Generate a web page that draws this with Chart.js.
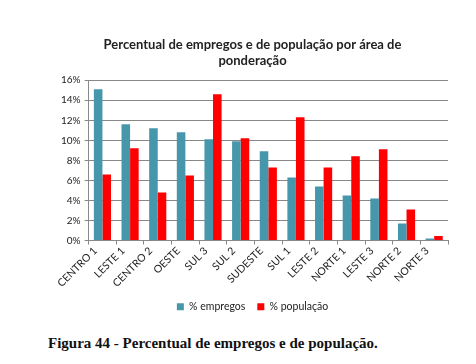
<!DOCTYPE html>
<html lang="pt">
<head>
    <meta charset="UTF-8">
    <title>Percentual de empregos e de população</title>
    <script src="https://cdn.jsdelivr.net/npm/chart.js@4.4.0/dist/chart.umd.min.js"></script>
    <style>
        * { margin: 0; padding: 0; box-sizing: border-box; }
        body { width: 476px; height: 364px; background: #fff; overflow: hidden; }
        #wrap { position: relative; width: 476px; height: 327px; }
        .caption {
            position: absolute; left: 48px; top: 335px;
            font-family: 'Liberation Serif', serif; font-weight: bold;
            font-size: 15px; color: #111;
        }
    </style>
</head>
<body>
    <div id="wrap"><canvas id="chart"></canvas></div>
    <p class="caption">Figura 44 - Percentual de empregos e de população.</p>

    <script>
        const areas = ['CENTRO 1', 'LESTE 1', 'CENTRO 2', 'OESTE', 'SUL 3', 'SUL 2', 'SUDESTE',
                       'SUL 1', 'LESTE 2', 'NORTE 1', 'LESTE 3', 'NORTE 2', 'NORTE 3']
        const empregos = [15.1, 11.6, 11.2, 10.8, 10.1, 9.9, 8.9, 6.3, 5.4, 4.5, 4.2, 1.7, 0.2]
        const populacao = [6.6, 9.2, 4.8, 6.5, 14.6, 10.2, 7.3, 12.3, 7.3, 8.4, 9.1, 3.1, 0.45]
        const yTicks = [0, 2, 4, 6, 8, 10, 12, 14, 16]

        const font = 'Lato'

        new Chart(document.getElementById('chart'), {
            type: 'bar',
            data: {
                labels: areas,
                datasets: [
                    { label: '% empregos', data: empregos, backgroundColor: '#4797AC' },
                    { label: '% população', data: populacao, backgroundColor: '#FF0000' }
                ]
            },
            options: {
                responsive: true,
                maintainAspectRatio: false,
                animation: false,
                datasets: { bar: { categoryPercentage: 0.62, barPercentage: 1.0 } },
                layout: { padding: { top: 37, left: 57, right: 28, bottom: 5 } },
                plugins: {
                    title: {
                        display: true,
                        text: ['Percentual de empregos e de população por área de', 'ponderação'],
                        color: '#222',
                        font: { family: font, size: 13, weight: 'bold', lineHeight: 1.2 },
                        padding: { top: 0, bottom: 12 }
                    },
                    legend: {
                        position: 'bottom',
                        labels: {
                            boxWidth: 7, boxHeight: 7, padding: 12,
                            color: '#222',
                            font: { family: font, size: 10.5 }
                        }
                    },
                    tooltip: { enabled: false }
                },
                scales: {
                    x: {
                        grid: { offset: true, drawOnChartArea: false, drawTicks: true, tickLength: 4, color: '#888' },
                        border: { color: '#888' },
                        ticks: {
                            minRotation: 45, maxRotation: 45, padding: 0, labelOffset: -7,
                            color: '#222', font: { family: font, size: 10.5 }
                        }
                    },
                    y: {
                        min: 0, max: 16,
                        afterBuildTicks: axis => { axis.ticks = yTicks.map(v => ({ value: v })) },
                        grid: { color: '#888', tickLength: 4 },
                        border: { color: '#888' },
                        ticks: {
                            color: '#222', padding: 4,
                            font: { family: font, size: 10 },
                            callback: v => v + '%'
                        }
                    }
                }
            }
        })
    </script>
</body>
</html>
